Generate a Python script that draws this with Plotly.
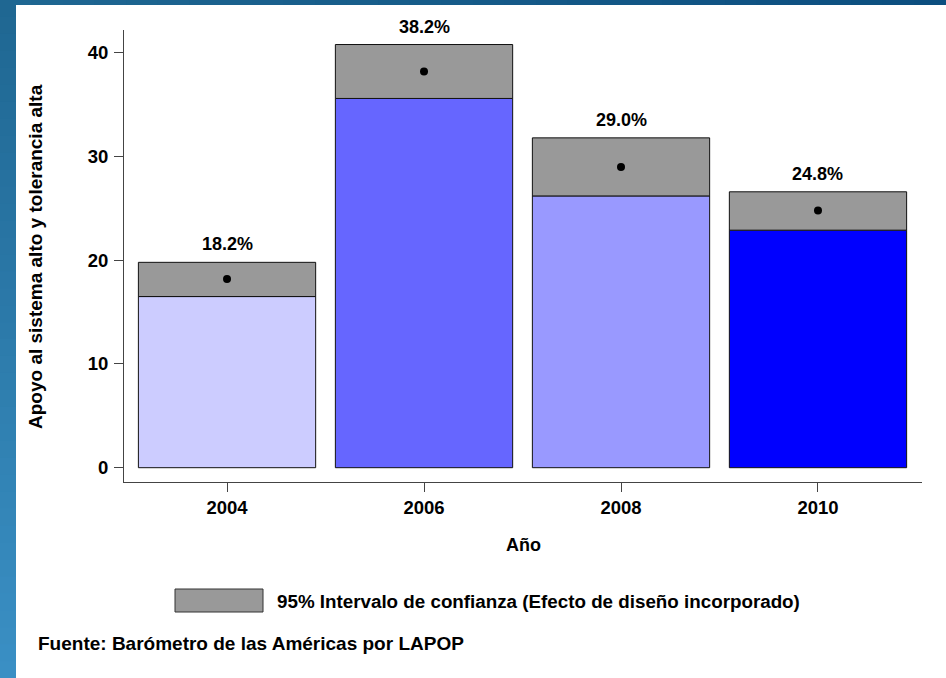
import plotly.graph_objects as go

# ---- data ----
years = ["2004", "2006", "2008", "2010"]
means = [18.2, 38.2, 29.0, 24.8]
ci_low = [16.5, 35.6, 26.2, 22.9]
ci_high = [19.8, 40.8, 31.8, 26.6]
bar_colors = ["#ccccff", "#6666ff", "#9999ff", "#0000ff"]
ci_color = "#999999"
y_ticks = [0, 10, 20, 30, 40]
y_title = "Apoyo al sistema alto y tolerancia alta"
x_title = "Año"
legend_text = "95% Intervalo de confianza (Efecto de diseño incorporado)"
source_text = "Fuente: Barómetro de las Américas por LAPOP"

W, H = 946, 678
L, R, T, B = 124, 24, 30, 196
PW, PH = W - L - R, H - T - B


def px_x(px):
    return (px - L) / PW


def px_y(py):
    return (H - B - py) / PH


FONT = "Liberation Sans, Arial, sans-serif"

fig = go.Figure()
fig.add_trace(go.Bar(
    x=years, y=ci_low, width=0.9,
    marker=dict(color=bar_colors, line=dict(color="#111111", width=1)),
    hoverinfo="skip", showlegend=False,
))
fig.add_trace(go.Bar(
    x=years, y=[h - l for h, l in zip(ci_high, ci_low)], base=ci_low, width=0.9,
    marker=dict(color=ci_color, line=dict(color="#111111", width=1)),
    hoverinfo="skip", showlegend=False,
))
fig.add_trace(go.Scatter(
    x=years, y=means, mode="markers",
    marker=dict(color="black", size=8),
    hoverinfo="skip", showlegend=False,
))

annotations = []
for i, (m, hi) in enumerate(zip(means, ci_high)):
    annotations.append(dict(
        x=i, y=hi, xref="x", yref="y", text=f"{m:.1f}%", showarrow=False,
        xanchor="center", yanchor="bottom", yshift=6,
        font=dict(family=FONT, size=18, color="black", weight="bold"),
    ))

annotations.append(dict(
    x=px_x(35), y=px_y(257), xref="paper", yref="paper", text=y_title,
    textangle=-90, showarrow=False, xanchor="center", yanchor="middle",
    font=dict(family=FONT, size=19, color="black", weight="bold"),
))
annotations.append(dict(
    x=px_x(523), y=px_y(545), xref="paper", yref="paper", text=x_title,
    showarrow=False, xanchor="center", yanchor="middle",
    font=dict(family=FONT, size=18, color="black", weight="bold"),
))
annotations.append(dict(
    x=px_x(275), y=px_y(601), xref="paper", yref="paper", text=legend_text,
    showarrow=False, xanchor="left", yanchor="middle",
    font=dict(family=FONT, size=18.8, color="black", weight="bold"),
))
annotations.append(dict(
    x=px_x(36), y=px_y(643), xref="paper", yref="paper", text=source_text,
    showarrow=False, xanchor="left", yanchor="middle",
    font=dict(family=FONT, size=19, color="black", weight="bold"),
))

shapes = []
# legend swatch
shapes.append(dict(
    type="rect", xref="paper", yref="paper",
    x0=px_x(175), x1=px_x(263), y0=px_y(612), y1=px_y(589),
    fillcolor=ci_color, line=dict(color="#333333", width=1),
))


def lerp(c1, c2, t):
    a = [int(c1[i:i + 2], 16) for i in (1, 3, 5)]
    b = [int(c2[i:i + 2], 16) for i in (1, 3, 5)]
    return "#" + "".join(f"{round(a[k] + (b[k] - a[k]) * t):02x}" for k in range(3))


# left blue strip (gradient)
n = 40
for i in range(n):
    y0p = i * H / n
    y1p = (i + 1) * H / n + 2
    shapes.append(dict(
        type="rect", xref="paper", yref="paper", layer="below",
        x0=px_x(0), x1=px_x(16), y0=px_y(y1p), y1=px_y(y0p),
        fillcolor=lerp("#1f6792", "#3a8fc4", i / (n - 1)), line=dict(width=0),
    ))
# top blue strip
m = 30
for i in range(m):
    x0p = i * W / m
    x1p = (i + 1) * W / m + 2
    shapes.append(dict(
        type="rect", xref="paper", yref="paper", layer="below",
        x0=px_x(max(x0p, 16)), x1=px_x(x1p), y0=px_y(5), y1=px_y(0),
        fillcolor=lerp("#1f6792", "#0c4e7f", i / (m - 1)), line=dict(width=0),
    ))

fig.update_layout(
    width=W, height=H,
    margin=dict(l=L, r=R, t=T, b=B, pad=0),
    paper_bgcolor="white", plot_bgcolor="white",
    barmode="overlay", bargap=0.1,
    showlegend=False,
    annotations=annotations, shapes=shapes,
    font=dict(family=FONT, color="black"),
)
fig.update_xaxes(
    type="category", range=[-0.523, 3.528],
    showline=True, linecolor="#444444", linewidth=1,
    ticks="outside", ticklen=9, tickcolor="#444444",
    tickfont=dict(family=FONT, size=18.5, color="black", weight="bold"),
    showgrid=False, zeroline=False,
)
fig.update_yaxes(
    range=[-1.38, 42.2], tickvals=y_ticks,
    showline=True, linecolor="#444444", linewidth=1,
    ticks="outside", ticklen=9, tickcolor="#444444", ticklabelstandoff=2,
    tickfont=dict(family=FONT, size=18.5, color="black", weight="bold"),
    showgrid=False, zeroline=False,
)

fig.write_html(
    "out.html",
    config={"displayModeBar": False},
    post_script="document.body.style.margin='0';document.body.style.overflow='hidden';",
)
